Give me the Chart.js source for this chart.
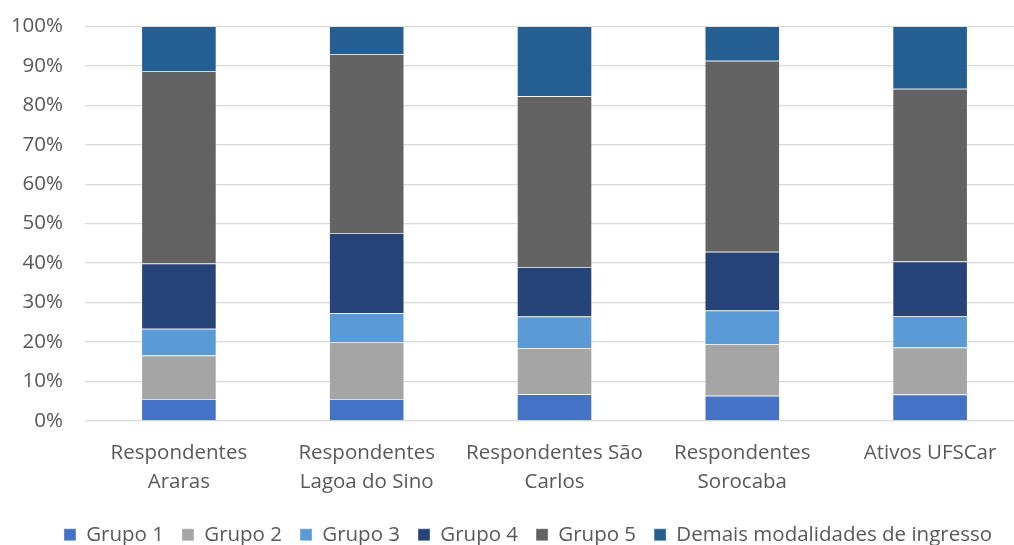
<!DOCTYPE html>
<html>
<head>
<meta charset="utf-8">
<script src="https://cdn.jsdelivr.net/npm/chart.js@4.4.1/dist/chart.umd.min.js"></script>
<style>
html,body{margin:0;padding:0;background:#fff;overflow:hidden;}
#wrap{width:1014px;height:545px;overflow:hidden;}
#c{display:block;margin-top:-8px;}
</style>
</head>
<body>
<div id="wrap"><canvas id="c" width="1024" height="563"></canvas></div>
<script>
const categories = [
  ["Respondentes", "Araras"],
  ["Respondentes", "Lagoa do Sino"],
  ["Respondentes São", "Carlos"],
  ["Respondentes", "Sorocaba"],
  "Ativos UFSCar"
];
const seriesNames = ["Grupo 1", "Grupo 2", "Grupo 3", "Grupo 4", "Grupo 5", "Demais modalidades de ingresso"];
const grupo1 = [5.6, 5.6, 6.8, 6.4, 6.7];
const grupo2 = [11.0, 14.4, 11.7, 13.1, 11.9];
const grupo3 = [6.8, 7.3, 8.0, 8.5, 8.0];
const grupo4 = [16.5, 20.3, 12.5, 14.9, 13.8];
const grupo5 = [48.8, 45.4, 43.3, 48.4, 43.8];
const demais = [11.3, 7.0, 17.7, 8.7, 15.8];
const yTicks = [0, 10, 20, 30, 40, 50, 60, 70, 80, 90, 100];

const colors = ["#4472C4", "#A5A5A5", "#5B9BD5", "#264478", "#636363", "#255E91"];
const seriesData = [grupo1, grupo2, grupo3, grupo4, grupo5, demais];

const FONT = "'Open Sans', sans-serif";
const TXT = "#595959";
const FS = 20.5;

const legendShift = {
  id: 'legendShift',
  afterLayout(chart) {
    if (chart.legend) { chart.legend.left += 16; chart.legend.right += 16; }
  }
};

new Chart(document.getElementById('c'), {
  type: 'bar',
  data: {
    labels: categories,
    datasets: seriesData.map((d, i) => ({
      label: seriesNames[i],
      data: d,
      backgroundColor: colors[i],
      borderColor: 'rgba(255,255,255,0.45)',
      borderWidth: 0.75,
      categoryPercentage: 1.0,
      barPercentage: 0.4
    }))
  },
  plugins: [legendShift],
  options: {
    responsive: false,
    animation: false,
    layout: { padding: { top: 7, left: 0, right: 0, bottom: 0 } },
    scales: {
      x: {
        stacked: true,
        grid: { display: false },
        border: { display: false },
        ticks: { color: TXT, font: { family: FONT, size: FS, lineHeight: 1.4 }, padding: 10, maxRotation: 0, autoSkip: false },
        afterFit: s => { s.height = 85.5; }
      },
      y: {
        stacked: true,
        min: 0, max: 100,
        afterBuildTicks: s => { s.ticks = yTicks.map(v => ({ value: v })); },
        grid: { color: '#D9D9D9', lineWidth: 1.3, drawTicks: false },
        border: { display: false },
        ticks: { color: TXT, font: { family: FONT, size: FS }, padding: 22, callback: v => v + '%' },
        afterFit: s => { s.width = 85; }
      }
    },
    plugins: {
      legend: {
        position: 'bottom',
        labels: { color: TXT, font: { family: FONT, size: FS }, boxWidth: 12, boxHeight: 12, padding: 18 }
      },
      tooltip: { enabled: false }
    }
  }
});
</script>
</body>
</html>
